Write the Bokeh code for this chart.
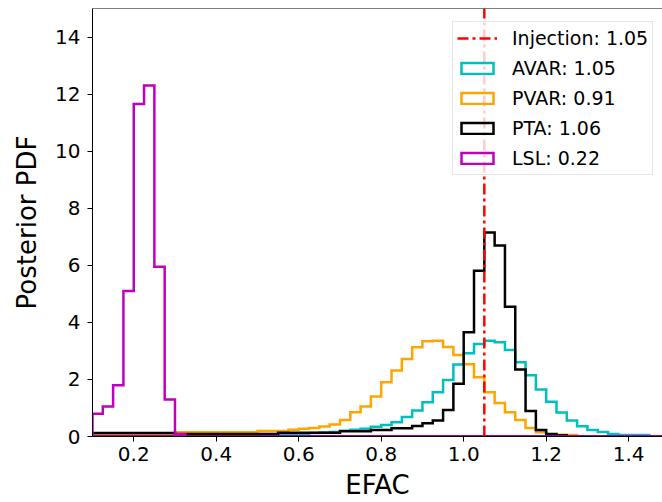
from bokeh.plotting import figure
from bokeh.models import (Range1d, FixedTicker, PrintfTickFormatter, Legend,
                          LegendItem, Span)
from bokeh.embed import file_html
from bokeh.resources import INLINE

# ---- data ----
bin_start = 0.1
bin_width = 0.025
n_bins = 56

# AVAR (cyan)
avar = [0.02, 0.02, 0.02, 0.02, 0.02, 0.02, 0.02, 0.02, 0.02, 0.02,
        0.02, 0.02, 0.02, 0.02, 0.02, 0.02, 0.02, 0.02, 0.08, 0.08,
        0.08, 0.12, 0.14, 0.16, 0.20, 0.24, 0.27, 0.34, 0.40, 0.50,
        0.68, 0.91, 1.20, 1.55, 1.98, 2.52, 2.92, 3.24, 3.36, 3.30,
        3.03, 2.60, 2.15, 1.65, 1.22, 0.84, 0.56, 0.36, 0.23, 0.16,
        0.09, 0.05, 0.05, 0.05, 0.0, 0.0]
# PVAR (orange)
pvar = [0.05, 0.05, 0.05, 0.05, 0.05, 0.05, 0.05, 0.05, 0.15, 0.15,
        0.15, 0.15, 0.15, 0.15, 0.15, 0.15, 0.19, 0.19, 0.19, 0.24,
        0.27, 0.30, 0.35, 0.42, 0.58, 0.85, 1.05, 1.40, 1.90, 2.31,
        2.72, 3.13, 3.34, 3.36, 3.14, 2.86, 2.53, 2.08, 1.55, 1.17,
        0.85, 0.58, 0.30, 0.15, 0.08, 0.06, 0.05, 0.0, 0.0, 0.0,
        0.0, 0.0, 0.0, 0.0, 0.0, 0.0]
# PTA (black)
pta = [0.12, 0.12, 0.12, 0.12, 0.12, 0.12, 0.12, 0.12, 0.09, 0.09,
       0.09, 0.09, 0.09, 0.09, 0.09, 0.09, 0.09, 0.09, 0.13, 0.13,
       0.13, 0.13, 0.13, 0.13, 0.18, 0.18, 0.18, 0.23, 0.23, 0.29,
       0.29, 0.37, 0.46, 0.56, 0.93, 1.85, 3.65, 5.81, 7.15, 6.69,
       4.55, 2.35, 0.89, 0.23, 0.09, 0.04, 0.0, 0.0, 0.0, 0.0,
       0.0, 0.0, 0.0, 0.0, 0.0, 0.0]
# LSL (magenta)
lsl = [0.80, 1.05, 1.80, 5.10, 11.65, 12.30, 5.95, 1.30, 0.08, 0.0,
       0.0, 0.0, 0.0, 0.0, 0.0, 0.0, 0.0, 0.0, 0.0, 0.0,
       0.0, 0.0, 0.0, 0.0, 0.0, 0.0, 0.0, 0.0, 0.0, 0.0,
       0.0, 0.0, 0.0, 0.0, 0.0, 0.0, 0.0, 0.0, 0.0, 0.0,
       0.0, 0.0, 0.0, 0.0, 0.0, 0.0, 0.0, 0.0, 0.0, 0.0,
       0.0, 0.0, 0.0, 0.0, 0.0, 0.0]

injection = 1.05
series_labels = ["AVAR: 1.05", "PVAR: 0.91", "PTA: 1.06", "LSL: 0.22"]
injection_label = "Injection: 1.05"
x_label = "EFAC"
y_label = "Posterior PDF"
x_ticks = [0.2, 0.4, 0.6, 0.8, 1.0, 1.2, 1.4]
y_ticks = [0, 2, 4, 6, 8, 10, 12, 14]
x_min, x_max = 0.1, 1.482
y_min, y_max = 0, 15

colors = ["#00BFBF", "#FFA500", "#000000", "#BF00BF"]

edges = [bin_start + i * bin_width for i in range(n_bins + 1)]


def outline(vals):
    xs = [edges[0]]
    ys = [0.0]
    for i, v in enumerate(vals):
        xs += [edges[i], edges[i + 1]]
        ys += [v, v]
    xs.append(edges[len(vals)])
    ys.append(0.0)
    return xs, ys


FONT = "DejaVu Sans"

p = figure(width=662, height=502, x_range=Range1d(x_min, x_max),
           y_range=Range1d(y_min, y_max), output_backend="svg",
           toolbar_location=None, min_border_left=92, min_border_right=0,
           min_border_top=8, min_border_bottom=66)

p.xgrid.visible = False
p.ygrid.visible = False
p.outline_line_color = None
p.background_fill_color = "white"
p.border_fill_color = "white"

top_spine = Span(location=y_max, dimension="width", line_color="black",
                 line_width=1)
p.add_layout(top_spine)

renderers = []
for vals, col in zip([avar, pvar, pta, lsl], colors):
    xs, ys = outline(vals)
    r = p.patch(xs, ys, fill_color=None, line_color=col, line_width=2.5,
                line_join="miter")
    renderers.append(r)

red = p.line([injection, injection], [y_min, y_max], line_color="#FF0000",
             line_width=2.5, line_dash="11 4 3 4")

items = [LegendItem(label=injection_label, renderers=[red])]
for lab, r in zip(series_labels, renderers):
    items.append(LegendItem(label=lab, renderers=[r]))

legend = Legend(items=items, location=(360, 261))
legend.label_text_font = FONT
legend.label_text_font_size = "19px"
legend.label_text_color = "#000000"
legend.glyph_width = 40
legend.glyph_height = 14
legend.label_height = 24
legend.spacing = 6
legend.padding = 4
legend.label_standoff = 15
legend.border_line_color = "#CCCCCC"
legend.border_line_width = 1
legend.background_fill_alpha = 0.8
legend.margin = 0
p.add_layout(legend)

for ax in (p.xaxis[0], p.yaxis[0]):
    ax.axis_line_color = "black"
    ax.axis_line_width = 1
    ax.major_tick_line_color = "black"
    ax.major_tick_line_width = 1
    ax.major_tick_out = 5
    ax.major_tick_in = 0
    ax.minor_tick_line_color = None
    ax.major_label_text_font = FONT
    ax.major_label_text_font_size = "20px"
    ax.major_label_text_color = "black"
    ax.axis_label_text_font = FONT
    ax.axis_label_text_font_size = "26px"
    ax.axis_label_text_font_style = "normal"
    ax.axis_label_text_color = "black"

p.xaxis.ticker = FixedTicker(ticks=x_ticks)
p.xaxis.formatter = PrintfTickFormatter(format="%.1f")
p.yaxis.ticker = FixedTicker(ticks=y_ticks)
p.xaxis.axis_label = x_label
p.yaxis.axis_label = y_label
p.xaxis.major_label_standoff = 5
p.xaxis.axis_label_standoff = 6
p.yaxis.major_label_standoff = 7
p.yaxis.axis_label_standoff = 10

open("out.html", "w").write(file_html(p, INLINE))
